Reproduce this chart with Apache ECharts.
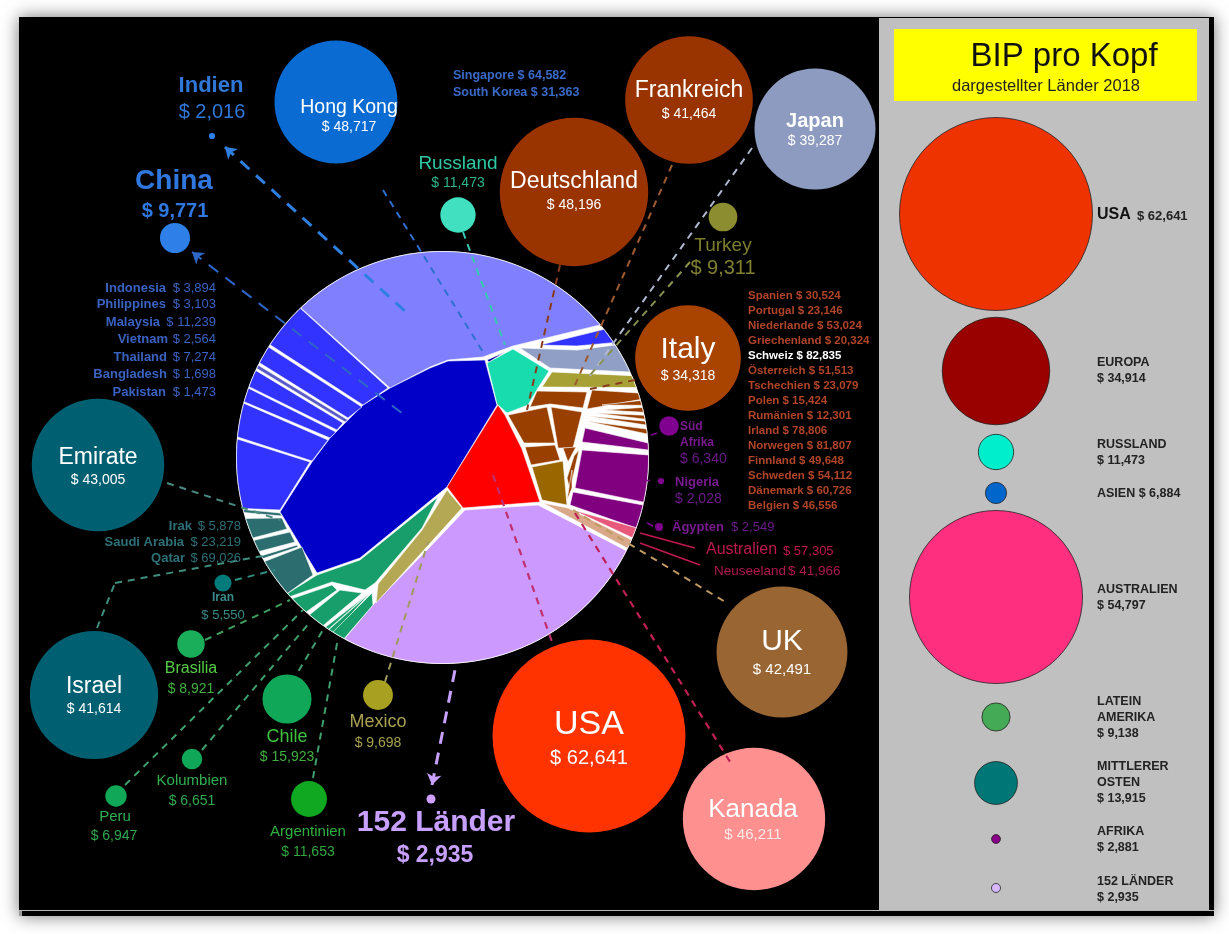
<!DOCTYPE html>
<html><head><meta charset="utf-8"><title>BIP pro Kopf</title>
<style>html,body{margin:0;padding:0;background:#fff}#c{width:1229px;height:934px}</style>
<script src="https://cdn.jsdelivr.net/npm/echarts@6/dist/echarts.min.js"></script>
</head><body><div id="c"></div>
<script>
// ---------- values ----------
const bigNames = ['Hong Kong','Frankreich','Japan','Deutschland','Italy','UK','USA','Kanada','Emirate','Israel'];
const bigGdp   = [48717,41464,39287,48196,34318,42491,62641,46211,43005,41614];
const smallNames = ['Russland','Turkey','Indien','China','Mexico','Chile','Brasilia','Kolumbien','Peru','Argentinien','Iran','152 Länder'];
const smallGdp   = [11473,9311,2016,9771,9698,15923,8921,6651,6947,11653,5550,2935];
const africaNames = ['Süd Afrika','Nigeria','Ägypten'];
const africaGdp   = [6340,2028,2549];
const asiaNames = ['Indonesia','Philippines','Malaysia','Vietnam','Thailand','Bangladesh','Pakistan'];
const asiaGdp   = [3894,3103,11239,2564,7274,1698,1473];
const eastAsiaNames = ['Singapore','South Korea'];
const eastAsiaGdp   = [64582,31363];
const europeNames = ['Spanien','Portugal','Niederlande','Griechenland','Schweiz','Österreich','Tschechien','Polen','Rumänien','Irland','Norwegen','Finnland','Schweden','Dänemark','Belgien'];
const europeGdp   = [30524,23146,53024,20324,82835,51513,23079,15424,12301,78806,81807,49648,54112,60726,46556];
const gulfNames = ['Irak','Saudi Arabia','Qatar'];
const gulfGdp   = [5878,23219,69026];
const oceaniaNames = ['Australien','Neuseeland'];
const oceaniaGdp   = [57305,41966];
const legendNames = ['USA','EUROPA','RUSSLAND','ASIEN','AUSTRALIEN','LATEIN AMERIKA','MITTLERER OSTEN','AFRIKA','152 LÄNDER'];
const legendGdp   = [62641,34914,11473,6884,54797,9138,13915,2881,2935];

// ---------- layout (image pixels used as axis units) ----------
const F = '"Liberation Sans",Arial,sans-serif';
const money = v => '$ ' + v.toLocaleString('en-US');
const SCALE = 0.00308;
const sizeOverride = {'Hong Kong':123, 'AUSTRALIEN':173};
const DISC = {x:442.5, y:457.5, r:206};

const bigPos = [[336,102,'#0a6cd2'],[689,100,'#993300'],[815,129,'#8c9bbf'],[574,192,'#993300'],[688,358,'#a84400'],[782,652,'#996633'],[589,736,'#ff3300'],[754,819,'#ff9090'],[98,465,'#006072'],[94,695,'#005f70']];
// name y, name px, value y, value px, text centre x
const bigText = [[107,19.5,126,14,349],[90,23,113,14,689],[120,20,140,14,815],[181,23,204,14,574],[349,30,375,14,688],[641,30,669,15,782],[724,34,757,20,589],[809,26,834,15,753],[457,23,479,14,98],[686,23,708,14,94]];
const smallPos = [[458,215,'#40e0c0'],[723,217,'#8c8c30'],[212,136,'#2e80e8'],[175,238,'#2e80e8'],[378,695,'#a8a020'],[287,699,'#10a858'],[191,644,'#1aae5a'],[192,759,'#10a858'],[116,796,'#10a858'],[309,799,'#10a820'],[223,583,'#007a7a'],[431,799,'#d0a0ff']];
// name x,y,font,colour ; value x,y,font,colour
const smallText = [
 [458,163,'19px','#2fc9a5',458,182,'14px','#2fb58e'],
 [723,245,'19px','#7d7d2e',723,267,'20px','#808030'],
 [211,85,'bold 22px','#2f78d8',212,111,'20px','#2f78d8'],
 [174,180,'bold 28px','#2f78e0',175,210,'bold 20px','#2f78e0'],
 [378,721,'18px','#a8a050',378,742,'14px','#a8a050'],
 [287,736,'18px','#40c040',287,756,'14px','#40b040'],
 [191,668,'16px','#55cc44',191,688,'14px','#45b040'],
 [192,780,'15px','#30b050',192,800,'14px','#30a850'],
 [115,816,'15px','#30b050',114,835,'14px','#30a850'],
 [308,831,'15px','#30b040',308,851,'14px','#30a840'],
 [223,597,'bold 12px','#3a8a8a',223,614,'13px','#3a8a8a'],
 [436,822,'bold 30px','#c8a0ff',435,855,'bold 23px','#c8a0ff']];
const africaPos = [[669,426,'#800090'],[661,481,'#800090'],[659,527,'#800090']];
const legendPos = [[996,214,'#ee3300'],[996,371,'#990000'],[996,452,'#00eecc'],[996,493,'#0066cc'],[996,597,'#ff2f80'],[996,717,'#44aa55'],[996,783,'#007777'],[996,839,'#880088'],[996,888,'#d8b8ff']];

// Voronoi-style cells of the disc: vertices near the rim are snapped onto it
const W='#ffffff';
const cells = [
 ['#8080ff',[[301,308],[390,388],[430,367],[448,360],[483,357],[513,346],[600,325]]],
 ['#0000c8',[[390,388],[363,405],[348,420],[330,438],[312,462],[280,512],[285,520],[317,573],[360,558],[447,487],[497,405],[485,360],[448,361],[430,368]]],
 ['#ff0000',[[498,405],[447,487],[463,508],[540,502],[522,449],[505,415]]],
 ['#18dcae',[[513,349],[549,371],[538,388],[528,405],[507,413],[497,404],[487,363]]],
 ['#0000a0',[[487,360],[505,352],[489,362]]],
 ['#3333ff',[[540,345],[603,330],[613,343],[577,346]]],
 ['#8f9fc6',[[520,348],[577,350],[615,345],[630,372],[550,368]]],
 ['#a6a035',[[552,372],[633,375],[638,387],[542,387]]],
 ['#993f00',[[537,391],[587,392],[583,408],[550,404],[530,407]]],
 ['#993f00',[[592,390],[638,393],[642,399],[587,409]]],
 ['#993f00',[[508,415],[547,407],[555,443],[524,443]]],
 ['#993f00',[[551,407],[582,412],[573,448],[558,448]]],
 ['#993f00',[[525,447],[555,445],[560,460],[531,465]]],
 ['#996600',[[532,467],[563,461],[567,505],[542,500]]],
 ['#993f00',[[563,448],[576,447],[568,462]]],
 ['#993f00',[[574,456],[579,450],[570,490],[567,478]]],
 ['#993f00',[[567,500],[572,470],[572,488]]],
 // fan of thin European cells
 ['#993f00',[[602,405],[642,400],[643,405]]],
 ['#993f00',[[604,410],[644,407],[645,412]]],
 ['#993f00',[[595,413],[645,415],[646,419]]],
 ['#993f00',[[588,416],[646,421],[646,425]]],
 ['#993f00',[[586,421],[647,429],[647,434]]],
 ['#800080',[[585,428],[648,443],[647,450],[582,442]]],
 ['#800080',[[582,450],[648,455],[643,502],[575,488]]],
 ['#800080',[[573,492],[643,505],[636,528],[570,505]]],
 // strips towards Australia
 ['#d8a888',[[543,503],[568,508],[632,540],[627,548]]],
 ['#e8587a',[[573,510],[637,528],[633,538]]],
 // lilac rest of the world
 ['#cc99ff',[[465,510],[538,505],[625,550],[345,638],[373,605],[430,547]]],
 ['#b5a855',[[447,490],[462,508],[376,603],[378,584],[422,530]]],
 // Latin America
 ['#189e6a',[[317,575],[360,560],[438,497],[422,528],[375,583],[365,590],[332,582],[292,595],[288,593]]],
 ['#189e6a',[[293,598],[332,585],[337,590],[308,610]]],
 ['#189e6a',[[312,612],[340,590],[362,593],[325,623]]],
 ['#189e6a',[[327,625],[367,595],[330,627]]],
 ['#189e6a',[[330,628],[370,593],[336,630]]],
 ['#189e6a',[[333,632],[372,593],[373,605],[345,637]]],
 // Middle East
 ['#2c6e70',[[245,509],[280,513],[282,516],[246,512]]],
 ['#2c6e70',[[247,518],[282,518],[287,529],[255,537]]],
 ['#2c6e70',[[257,539],[290,532],[295,542],[262,550]]],
 ['#2c6e70',[[263,555],[297,545],[298,547],[264,558]]],
 ['#2c6e70',[[267,560],[302,547],[313,575],[289,592]]],
 // South and East Asia
 ['#3333ff',[[302,310],[388,388],[363,405],[272,346]]],
 ['#3333ff',[[270,348],[362,407],[348,418],[260,363]]],
 ['#5a5ac8',[[260,366],[348,420],[345,422],[258,369]]],
 ['#3333ff',[[257,371],[343,423],[337,430],[250,387]]],
 ['#3333ff',[[248,388],[336,432],[330,438],[245,402]]],
 ['#3333ff',[[243,403],[328,440],[312,461],[238,437]]],
 ['#3333ff',[[237,439],[310,462],[280,510],[245,508]]]
];

// leader lines [colour,width,x1,y1,x2,y2]
const leaders = [
 ['#2f6fd0',2,383,190,483,352],['#35c8b0',2,463,232,505,345],['#8a3a1c',2,560,265,527,410],
 ['#a05a30',2,672,165,575,385],['#b0b8d0',2,752,148,590,376],['#8a9050',2,690,262,590,375],
 ['#8a3a1c',2,635,380,590,389],['#800090',1.4,657,433,651,435],['#800090',1.4,650,480,646,480],['#800090',1.4,647,523,653,526],
 ['#c09a60',2,573,510,727,603],['#c03070',2.2,493,475,552,642],
 ['#4a8a80',2,167,483,280,520],['#3f8f7f',2,97,628,115,583],['#3f8f7f',2,115,583,268,555],
 ['#2f8f80',2,235,580,275,570],['#3f9f5f',2,205,640,290,600],['#3f9f6f',2,202,750,310,622],
 ['#3f9f6f',2,125,785,303,610],['#3f9f6f',2,292,682,323,630],['#3f9f6f',2,313,778,338,638],
 ['#a09a60',2,385,682,428,542]];
const overBubbleLeaders = [['#c02058',2.2,575,513,732,765]];
const solidLeaders = [['#c01850',1.8,640,533,695,548],['#c01850',1.8,640,543,700,565]];
const arrows = [['#2e7fe0',3,225,147,407,313],['#2e66c8',2,192,252,407,417],['#c8a0ff',3,432,785,456,665]];

// ---------- text items ----------
const T=[];
const t=(s,x,y,font,fill,align)=>T.push({s,x,y,font:font+' '+F,fill,align:align||'center'});
bigNames.forEach((n,i)=>{const b=bigText[i];
  t(n,b[4],b[0],(n==='Japan'?'bold ':'')+b[1]+'px','#fff');
  t(money(bigGdp[i]),b[4],b[2],b[3]+'px',n==='Kanada'?'#ffe6e6':'#fff');});
smallNames.forEach((n,i)=>{const m=smallText[i];
  t(n,m[0],m[1],m[2],m[3]); t(money(smallGdp[i]),m[4],m[5],m[6],m[7]);});
// Africa
t('Süd',680,426,'bold 12px','#7a1a90','left');t('Afrika',680,442,'bold 12px','#7a1a90','left');t(money(africaGdp[0]),680,458,'14px','#6a1a88','left');
t(africaNames[1],675,481,'bold 13px','#7a1a90','left');t(money(africaGdp[1]),675,498,'14px','#6a1a88','left');
t(africaNames[2],672,526,'bold 13px','#7a1a90','left');t(money(africaGdp[2]),731,526,'13px','#6a1a88','left');
// lists
const asiaY=[287,303,321,338,356,373,391], asiaX=[166,166,160,168,167,167,166];
asiaNames.forEach((n,i)=>{t(n,asiaX[i],asiaY[i],'bold 13px','#3a62c0','right');t(money(asiaGdp[i]),216,asiaY[i],'13px','#3a62c0','right');});
eastAsiaNames.forEach((n,i)=>t(n+' '+money(eastAsiaGdp[i]),453,[75,92][i],'bold 12.5px','#3a6ac8','left'));
const euroY=[295,310,325,340,355,370,385,400,415,430,445,460,475,490,505];
europeNames.forEach((n,i)=>t(n+' '+money(europeGdp[i]),748,euroY[i],'bold 11.5px',n==='Schweiz'?'#ffffff':'#b0452a','left'));
const gulfY=[525,541,557], gulfX=[192,184,185];
gulfNames.forEach((n,i)=>{t(n,gulfX[i],gulfY[i],'bold 13px','#2f7078','right');t(money(gulfGdp[i]),241,gulfY[i],'13px','#2f7078','right');});
t(oceaniaNames[0],706,549,'16px','#c01850','left');t(money(oceaniaGdp[0]),783,550,'13px','#c01850','left');
t(oceaniaNames[1],714,570,'13.5px','#b01850','left');t(money(oceaniaGdp[1]),788,570,'13.5px','#b01850','left');
// panel
t('BIP pro Kopf',1064,56,'33px','#111');
t('dargestellter Länder 2018',1046,85,'16.5px','#222');
t(legendNames[0],1097,214,'bold 16px','#111','left');t(money(legendGdp[0]),1137,215,'bold 13px','#222','left');
const L=(lines,idx,ys)=>{lines.forEach((l,i)=>t(l,1097,ys[i],'bold 12.5px','#222','left'));t(money(legendGdp[idx]),1097,ys[lines.length],'bold 12.5px','#222','left');};
L(['EUROPA'],1,[362,378]);L(['RUSSLAND'],2,[444,460]);
t(legendNames[3]+' '+money(legendGdp[3]),1097,493,'bold 12.5px','#222','left');
L(['AUSTRALIEN'],4,[589,605]);L(['LATEIN','AMERIKA'],5,[701,717,733]);
L(['MITTLERER','OSTEN'],6,[766,782,798]);L(['AFRIKA'],7,[831,847]);L(['152 LÄNDER'],8,[881,897]);

// ---------- helpers ----------
function rimmed(pts){
  const onRim=p=>Math.hypot(p[0]-DISC.x,p[1]-DISC.y)>DISC.r-5;
  const ang=p=>Math.atan2(p[1]-DISC.y,p[0]-DISC.x);
  const out=[];
  pts.forEach((p,i)=>{
    const q=pts[(i+1)%pts.length];
    if(onRim(p)){
      const a=ang(p);out.push([DISC.x+DISC.r*Math.cos(a),DISC.y+DISC.r*Math.sin(a)]);
      if(onRim(q)){let b=ang(q),d=b-a;while(d>Math.PI)d-=2*Math.PI;while(d<-Math.PI)d+=2*Math.PI;
        const n=Math.ceil(Math.abs(d)/0.03);
        for(let k=1;k<n;k++){const c=a+d*k/n;out.push([DISC.x+DISC.r*Math.cos(c),DISC.y+DISC.r*Math.sin(c)]);}}
    } else out.push(p);
  });
  return out;
}
const sizeOf=(name,v)=>sizeOverride[name]||Math.max(v*SCALE,5);
const bubbleRows=(names,vals,pos)=>names.map((n,i)=>({name:n,value:[pos[i][0],pos[i][1],vals[i]],itemStyle:{color:pos[i][2],opacity:1}}));
const lineRow=a=>({coords:[[a[2],a[3]],[a[4],a[5]]],lineStyle:{color:a[0],width:a[1]}});

const chart=echarts.init(document.getElementById('c'),null,{renderer:'canvas'});
chart.setOption({
 animation:false,backgroundColor:'#ffffff',
 grid:{left:0,right:0,top:0,bottom:0,containLabel:false},
 xAxis:{type:'value',min:0,max:1229,show:false},
 yAxis:{type:'value',min:0,max:934,inverse:true,show:false},
 tooltip:{show:false},
 series:[
  {type:'custom',coordinateSystem:'cartesian2d',silent:true,clip:false,z:1,data:[[0,0]],
   renderItem(p,api){
    const c=q=>api.coord(q);
    const r=(x0,y0,x1,y1,fill,extra)=>{const a=c([x0,y0]),b=c([x1,y1]);return {type:'rect',shape:{x:a[0],y:a[1],width:b[0]-a[0],height:b[1]-a[1]},style:Object.assign({fill},extra||{})};};
    const d=c([DISC.x,DISC.y]);
    return {type:'group',children:[
      r(19,17,1214,916,'#000',{shadowBlur:16,shadowColor:'rgba(0,0,0,.55)',shadowOffsetX:0,shadowOffsetY:0}),
      r(19,910,1214,911,'#b8b8b8'),
      r(19,911,22,916,'#9a9a9a'),
      r(879,18,1209,910,'#c0c0c0'),
      r(894,29,1197,101,'#ffff00'),
      {type:'circle',shape:{cx:d[0],cy:d[1],r:DISC.r+0.5},style:{fill:'#fff'}}
    ]};
   }},
  {type:'custom',coordinateSystem:'cartesian2d',silent:true,clip:false,z:2,
   data:cells.map((_,i)=>[i]),encode:{x:-1,y:-1},
   renderItem(p,api){
    const cell=cells[p.dataIndex];
    return {type:'polygon',shape:{points:rimmed(cell[1]).map(q=>api.coord(q))},style:{fill:cell[0],stroke:W,lineWidth:0.6}};
   }},
  {type:'lines',coordinateSystem:'cartesian2d',silent:true,z:3,symbol:'none',lineStyle:{type:[7,6],opacity:1},data:leaders.map(lineRow)},
  {type:'lines',coordinateSystem:'cartesian2d',silent:true,z:3,symbol:'none',lineStyle:{type:'solid',opacity:1},data:solidLeaders.map(lineRow)},
  {type:'lines',coordinateSystem:'cartesian2d',silent:true,z:3,symbol:['arrow','none'],symbolSize:11,lineStyle:{type:[12,9],opacity:1},data:arrows.map(lineRow)},
  {type:'scatter',coordinateSystem:'cartesian2d',silent:true,clip:false,z:4,symbol:'circle',
   symbolSize:(v,p)=>sizeOf(p.name,v[2]),
   data:[...bubbleRows(bigNames,bigGdp,bigPos),...bubbleRows(smallNames,smallGdp,smallPos),...bubbleRows(africaNames,africaGdp,africaPos)]},
  {type:'scatter',coordinateSystem:'cartesian2d',silent:true,clip:false,z:4,symbol:'circle',
   symbolSize:(v,p)=>sizeOf(p.name,v[2]),itemStyle:{borderColor:'#222',borderWidth:0.8},
   data:bubbleRows(legendNames,legendGdp,legendPos)},
  {type:'lines',coordinateSystem:'cartesian2d',silent:true,z:5,symbol:'none',lineStyle:{type:[7,6],opacity:1},data:overBubbleLeaders.map(lineRow)},
  {type:'custom',coordinateSystem:'cartesian2d',silent:true,clip:false,z:6,
   data:T.map(o=>[o.x,o.y]),
   renderItem(p,api){
    const o=T[p.dataIndex],a=api.coord([o.x,o.y+1]);
    return {type:'text',x:a[0],y:a[1],style:{text:o.s,font:o.font,fill:o.fill,align:o.align,verticalAlign:'middle'}};
   }}
 ]
});
</script></body></html>
